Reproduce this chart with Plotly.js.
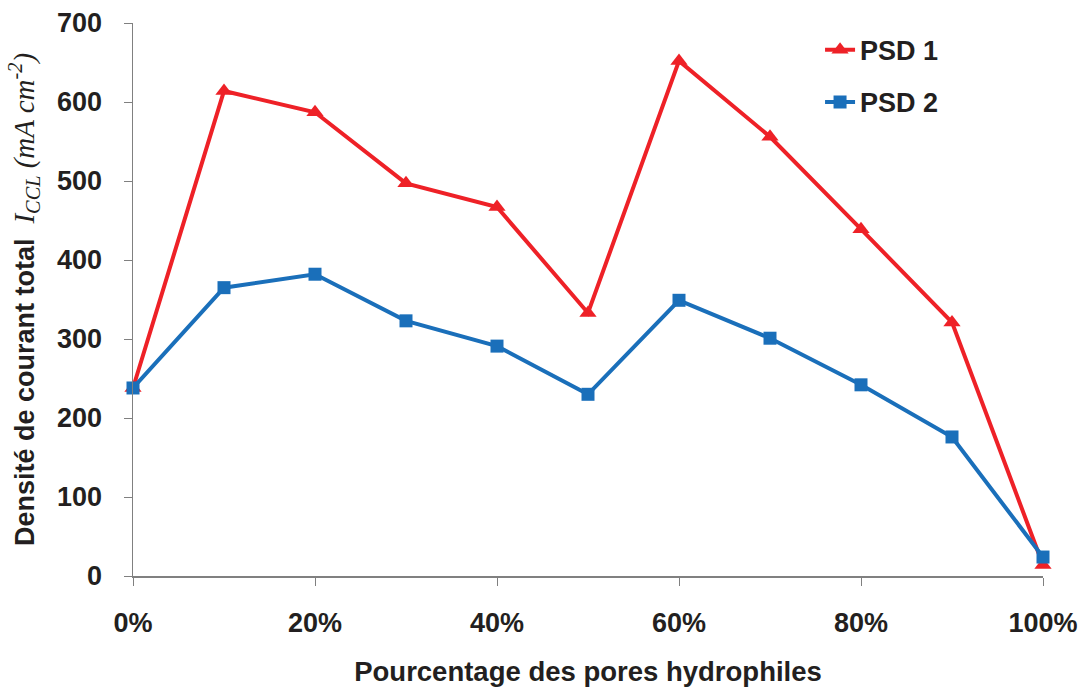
<!DOCTYPE html>
<html><head><meta charset="utf-8">
<script src="https://cdn.plot.ly/plotly-3.0.1.min.js"></script>
<style>html,body{margin:0;padding:0;background:#fff}#c{width:1084px;height:688px}</style>
</head><body><div id="c"></div>
<script>
const xPct = [0, 10, 20, 30, 40, 50, 60, 70, 80, 90, 100];
const psd1 = [238, 614, 587, 497, 467, 333, 652, 556, 439, 321, 14];
const psd2 = [238, 365, 382, 323, 291, 230, 349, 301, 242, 176, 24];
const xTickVals = [0, 20, 40, 60, 80, 100];
const xTickText = ['0%', '20%', '40%', '60%', '80%', '100%'];
const yTickVals = [0, 100, 200, 300, 400, 500, 600, 700];

const F = 'Liberation Sans, Arial, sans-serif';
const traces = [
  {x: xPct, y: psd1, name: 'PSD 1', mode: 'lines+markers', legendgroup: 'a',
   line: {color: '#EE2127', width: 4}, marker: {symbol: 'triangle-up', size: 15, color: '#EE2127'}, cliponaxis: false},
  {x: xPct, y: psd2, name: 'PSD 2', mode: 'lines+markers', legendgroup: 'b',
   line: {color: '#1A6FBA', width: 4}, marker: {symbol: 'square', size: 13, color: '#1A6FBA'}, cliponaxis: false}
];
const layout = {
  width: 1084, height: 688,
  margin: {l: 133, r: 41, t: 23, b: 112},
  paper_bgcolor: '#fff', plot_bgcolor: '#fff',
  font: {family: F, color: '#231F20', size: 27, weight: 'bold'},
  showlegend: true,
  legend: {x: 0.755, y: 0.995, xanchor: 'left', yanchor: 'top', bgcolor: 'rgba(0,0,0,0)',
           font: {family: F, size: 27, color: '#231F20', weight: 'bold'}, tracegroupgap: 14, itemwidth: 30},
  xaxis: {range: [0, 100], tickvals: xTickVals, ticktext: xTickText, showgrid: false, zeroline: false,
          showline: true, linecolor: '#808080', linewidth: 1.5, ticks: 'outside', ticklen: 8, tickcolor: '#808080',
          tickfont: {family: F, size: 27, weight: 'bold'}, ticklabelstandoff: 14,
          title: {text: 'Pourcentage des pores hydrophiles', font: {family: F, size: 27.5, weight: 'bold'}, standoff: 25}},
  yaxis: {range: [0, 700], tickvals: yTickVals, showgrid: false, zeroline: false,
          showline: true, linecolor: '#808080', linewidth: 1.5, ticks: 'outside', ticklen: 8, tickcolor: '#808080',
          tickfont: {family: F, size: 27, weight: 'bold'}, ticklabelstandoff: 16,
          title: {text: 'Densité de courant total  <span style="font-family:Liberation Serif;font-weight:normal;font-style:italic;font-size:29px">I<sub>CCL</sub> (mA cm<sup>-2</sup>)</span>',
                  font: {family: F, size: 27, weight: 'bold'}, standoff: 14}}
};
Plotly.newPlot('c', traces, layout, {displayModeBar: false, staticPlot: true});
</script></body></html>
